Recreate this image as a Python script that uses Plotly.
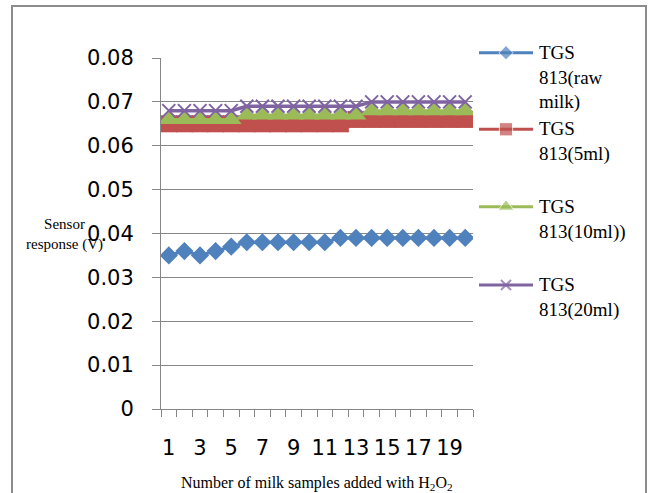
import plotly.graph_objects as go

# Sample index (1..20) and sensor output in volts for each H2O2 dose
samples = list(range(1, 21))
raw_milk = [0.035, 0.036, 0.035, 0.036, 0.037, 0.038, 0.038, 0.038, 0.038, 0.038,
            0.038, 0.039, 0.039, 0.039, 0.039, 0.039, 0.039, 0.039, 0.039, 0.039]
dose_5ml = [0.065] * 12 + [0.066] * 8
dose_10ml = [0.066] * 5 + [0.067] * 8 + [0.068] * 7
dose_20ml = [0.068] * 5 + [0.069] * 8 + [0.070] * 7

series_names = ["TGS<br>813(raw<br>milk)", "TGS<br>813(5ml)",
                "TGS<br>813(10ml))", "TGS<br>813(20ml)"]
x_tick_vals = [1, 3, 5, 7, 9, 11, 13, 15, 17, 19]
x_tick_text = ["1", "3", "5", "7", "9", "11", "13", "15", "17", "19"]
y_tick_vals = [0, 0.01, 0.02, 0.03, 0.04, 0.05, 0.06, 0.07, 0.08]
y_tick_text = ["0", "0.01", "0.02", "0.03", "0.04", "0.05", "0.06", "0.07", "0.08"]

# Canvas and plot-area geometry (pixels)
W, H = 654, 493
PLOT_L, PLOT_R, PLOT_T, PLOT_B = 161, 473, 58, 409

GRID = "#868686"
SERIF = "Liberation Serif"
SANS = "DejaVu Sans"

styles = [
    dict(color="#4F81BD", symbol="diamond", size=14, lw=3),
    dict(color="#C0504D", symbol="square", size=17, lw=3),
    dict(color="#9BBB59", symbol="triangle-up", size=18, lw=3),
    dict(color="#8064A2", symbol="x-thin-open", size=13, lw=3.5),
]

# Legend block: key line span, text column and first-line centre of each entry
KEY_X0, KEY_X1, TEXT_X = 479, 533, 537
ENTRY_Y = [52.7, 129.3, 206.7, 285.0]


def marker_for(st):
    m = dict(color=st["color"], symbol=st["symbol"], size=st["size"])
    if st["symbol"].startswith("x-thin"):
        m["line"] = dict(color=st["color"], width=2)
    return m


fig = go.Figure()
for name, ys, st in zip(series_names, [raw_milk, dose_5ml, dose_10ml, dose_20ml], styles):
    fig.add_trace(go.Scatter(
        x=samples, y=ys, name=name, mode="lines+markers",
        line=dict(color=st["color"], width=st["lw"]),
        marker=marker_for(st), xaxis="x", yaxis="y", showlegend=False,
    ))

# Legend keys drawn on a pixel-unit overlay axis
annotations = []
for name, st, ey in zip(series_names, styles, ENTRY_Y):
    fig.add_trace(go.Scatter(
        x=[KEY_X0, (KEY_X0 + KEY_X1) / 2, KEY_X1], y=[ey, ey, ey],
        mode="lines+markers", line=dict(color=st["color"], width=3),
        marker=dict(marker_for(st), size=[0, st["size"] * 0.78, 0]),
        xaxis="x2", yaxis="y2", showlegend=False, hoverinfo="skip",
    ))
    annotations.append(dict(
        text=name, xref="x2", yref="y2", x=TEXT_X, y=ey - 13,
        xanchor="left", yanchor="top", align="left", showarrow=False,
        font=dict(family=SERIF, size=19, color="black"),
    ))

annotations += [
    dict(text="Sensor<br>response (V)", xref="x2", yref="y2",
         x=64, y=234, xanchor="center", yanchor="middle", showarrow=False,
         font=dict(family=SERIF, size=15, color="black")),
    dict(text="Number of milk samples added with H<sub>2</sub>O<sub>2</sub>",
         xref="x2", yref="y2", x=317, y=483,
         xanchor="center", yanchor="middle", showarrow=False,
         font=dict(family=SERIF, size=16, color="black")),
]

fig.update_layout(
    width=W, height=H,
    margin=dict(l=0, r=0, t=0, b=0, pad=0, autoexpand=False),
    paper_bgcolor="white", plot_bgcolor="rgba(0,0,0,0)",
    showlegend=False,
    xaxis=dict(
        domain=[PLOT_L / W, PLOT_R / W], anchor="y",
        range=[0.5, 20.5], tickmode="array", tickvals=x_tick_vals, ticktext=x_tick_text,
        ticks="", showgrid=False, zeroline=False,
        showline=True, linecolor=GRID, linewidth=1,
        tickfont=dict(family=SANS, size=21, color="black"),
        ticklabelstandoff=20,
        minor=dict(tick0=0.5, dtick=1, ticks="outside", ticklen=7, tickcolor=GRID,
                   tickwidth=1, showgrid=False),
    ),
    yaxis=dict(
        domain=[1 - PLOT_B / H, 1 - PLOT_T / H], anchor="x",
        range=[0, 0.08], tickmode="array", tickvals=y_tick_vals, ticktext=y_tick_text,
        ticks="outside", ticklen=8, tickcolor=GRID, tickwidth=1,
        showgrid=True, gridcolor=GRID, gridwidth=1, zeroline=False,
        showline=True, linecolor=GRID, linewidth=1,
        tickfont=dict(family=SANS, size=21, color="black"),
        ticklabelstandoff=14,
    ),
    xaxis2=dict(domain=[0, 1], anchor="y2", range=[0, W], visible=False, fixedrange=True),
    yaxis2=dict(domain=[0, 1], anchor="x2", range=[H, 0], visible=False, fixedrange=True),
    shapes=[dict(type="rect", xref="x2", yref="y2",
                 x0=12, x1=646, y0=6, y1=530,
                 line=dict(color="#8c8c8c", width=2), layer="below")],
    annotations=annotations,
)

fig.write_html("out.html")
